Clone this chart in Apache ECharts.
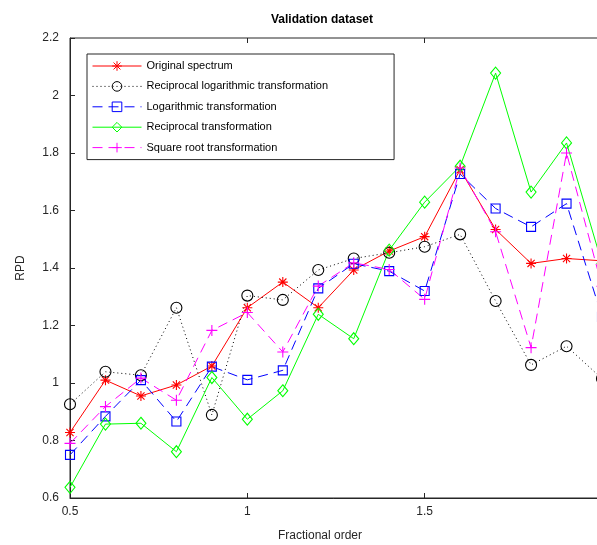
<!DOCTYPE html>
<html>
<head>
<meta charset="utf-8">
<script src="https://cdn.jsdelivr.net/npm/echarts@6/dist/echarts.min.js"></script>
<style>
  html, body { margin: 0; padding: 0; background: #fff; }
  #chart { width: 597px; height: 545px; }
</style>
</head>
<body>
<div id="chart"></div>
<script>
// Fractional order of the derivative (x axis)
const orders = [0.5, 0.6, 0.7, 0.8, 0.9, 1.0, 1.1, 1.2, 1.3, 1.4, 1.5, 1.6, 1.7, 1.8, 1.9, 2.0];

// RPD on the validation set for each spectral pretreatment
const originalSpectrum   = [0.828, 1.010, 0.955, 0.993, 1.059, 1.262, 1.351, 1.262, 1.393, 1.459, 1.509, 1.742, 1.534, 1.416, 1.433, 1.425];
const reciprocalLogTrans = [0.926, 1.039, 1.027, 1.262, 0.889, 1.304, 1.289, 1.393, 1.433, 1.453, 1.474, 1.517, 1.285, 1.063, 1.128, 1.015];
const logarithmicTrans   = [0.750, 0.884, 1.010, 0.866, 1.057, 1.011, 1.044, 1.329, 1.415, 1.389, 1.320, 1.727, 1.607, 1.543, 1.624, 1.230];
const reciprocalTrans    = [0.637, 0.857, 0.860, 0.761, 1.019, 0.874, 0.973, 1.239, 1.154, 1.462, 1.629, 1.754, 2.078, 1.664, 1.835, 1.416];
const squareRootTrans    = [0.790, 0.918, 1.017, 0.940, 1.183, 1.245, 1.108, 1.337, 1.418, 1.395, 1.291, 1.748, 1.526, 1.123, 1.800, 1.336];

const seriesNames = [
  'Original spectrum',
  'Reciprocal logarithmic transformation',
  'Logarithmic transformation',
  'Reciprocal transformation',
  'Square root transformation'
];

const yTicks = { min: 0.6, max: 2.2, interval: 0.2 };
const xTicks = { min: 0.5, max: 2.0, interval: 0.5 };

const ASTERISK = 'path://M0,-5L0,5M-5,0L5,0M-3.6,-3.6L3.6,3.6M-3.6,3.6L3.6,-3.6';
const PLUS = 'path://M0,-5L0,5M-5,0L5,0';

function pairs(vals) {
  return vals.map((v, i) => [orders[i], v]);
}

function makeSeries(name, vals, color, dash, symbol, size) {
  return {
    name: name,
    type: 'line',
    data: pairs(vals),
    symbol: symbol,
    symbolSize: size,
    showAllSymbol: true,
    clip: true,
    silent: true,
    lineStyle: { color: color, width: 1, type: dash },
    itemStyle: { color: 'none', borderColor: color, borderWidth: 1.1 },
    emphasis: { disabled: true }
  };
}

const axisColor = '#262626';
const font = 'Liberation Sans, Arial, Helvetica, sans-serif';

const chart = echarts.init(document.getElementById('chart'), null, { renderer: 'canvas' });

chart.setOption({
  animation: false,
  backgroundColor: '#fff',
  title: {
    text: 'Validation dataset',
    left: 317,
    top: 9,
    textAlign: 'center',
    textStyle: { fontFamily: font, fontSize: 12, fontWeight: 'bold', color: '#000' }
  },
  // the axes box runs past the right edge of the canvas (x = 2 lies just outside)
  grid: {
    left: 70,
    top: 38,
    width: 532,
    height: 460,
    outerBoundsMode: 'none',
    containLabel: false,
    show: true,
    borderColor: axisColor,
    borderWidth: 1,
    backgroundColor: 'transparent'
  },
  legend: {
    orient: 'vertical',
    left: 87,
    top: 54,
    padding: [4.7, 66, 4.7, 5],
    itemWidth: 49,
    itemHeight: 12,
    itemGap: 5.8,
    borderColor: axisColor,
    borderWidth: 1,
    backgroundColor: '#fff',
    selectedMode: false,
    data: seriesNames,
    lineStyle: { width: 1 },
    itemStyle: { borderWidth: 1 },
    textStyle: { fontFamily: font, fontSize: 11, color: '#000' }
  },
  xAxis: [{
    type: 'value',
    min: xTicks.min,
    max: xTicks.max,
    interval: xTicks.interval,
    name: 'Fractional order',
    nameLocation: 'middle',
    nameGap: 32,
    nameTextStyle: { fontFamily: font, fontSize: 12, color: axisColor, padding: [0, 32, 0, 0] },
    axisLine: { onZero: false, lineStyle: { color: axisColor, width: 1 } },
    axisTick: { inside: true, length: 5, lineStyle: { color: axisColor } },
    axisLabel: { fontFamily: font, fontSize: 12, color: axisColor, margin: 8, showMaxLabel: false },
    splitLine: { show: false }
  }, {
    type: 'value',
    position: 'top',
    min: xTicks.min,
    max: xTicks.max,
    interval: xTicks.interval,
    axisLine: { show: false },
    axisTick: { inside: true, length: 5, lineStyle: { color: axisColor } },
    axisLabel: { show: false },
    splitLine: { show: false }
  }],
  yAxis: {
    type: 'value',
    min: yTicks.min,
    max: yTicks.max,
    interval: yTicks.interval,
    name: 'RPD',
    nameLocation: 'middle',
    nameGap: 43,
    nameRotate: 90,
    nameTextStyle: { fontFamily: font, fontSize: 12, color: axisColor },
    axisLine: { show: true, lineStyle: { color: axisColor, width: 1 } },
    axisTick: { show: true, inside: true, length: 5, lineStyle: { color: axisColor } },
    axisLabel: { fontFamily: font, fontSize: 12, color: axisColor, margin: 11 },
    splitLine: { show: false }
  },
  series: [
    makeSeries(seriesNames[0], originalSpectrum, '#ff0000', 'solid', ASTERISK, 10),
    makeSeries(seriesNames[1], reciprocalLogTrans, '#000000', [1, 3], 'circle', 11),
    makeSeries(seriesNames[2], logarithmicTrans, '#0000ff', [10, 6], 'rect', 9),
    makeSeries(seriesNames[3], reciprocalTrans, '#00ff00', 'solid', 'diamond', [10, 12]),
    makeSeries(seriesNames[4], squareRootTrans, '#ff00ff', [10, 6], PLUS, 11)
  ]
});
</script>
</body>
</html>
